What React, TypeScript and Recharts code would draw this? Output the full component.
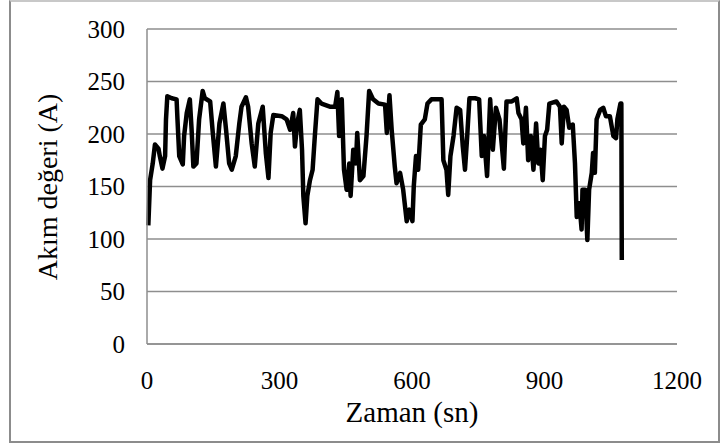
import { LineChart, Line, XAxis, YAxis, CartesianGrid } from 'recharts';

const timeSec = [
  3, 7, 13, 18, 26, 29, 35, 41, 43, 46, 56, 67, 69, 73, 81, 84, 90, 97, 101, 105,
  112, 118, 126, 131, 143, 149, 156, 164, 173, 179, 186, 192, 201, 209, 214, 224, 229, 237, 244, 252,
  262, 269, 275, 280, 286, 305, 316, 324, 331, 335, 340, 346, 351, 354, 359, 363, 369, 375, 380, 386,
  395, 414, 426, 431, 435, 441, 446, 452, 458, 461, 467, 473, 476, 482, 490, 497, 503, 512, 524, 539,
  543, 549, 554, 561, 565, 573, 580, 588, 594, 601, 604, 609, 614, 620, 629, 635, 644, 667, 671, 678,
  682, 687, 694, 701, 709, 715, 720, 725, 730, 743, 752, 758, 763, 770, 777, 783, 790, 798, 803, 808,
  814, 826, 837, 841, 848, 852, 858, 863, 869, 875, 881, 886, 891, 896, 901, 906, 911, 927, 935, 939,
  944, 950, 956, 964, 969, 973, 979, 984, 986, 992, 997, 1001, 1007, 1010, 1014, 1018, 1026, 1033, 1039, 1048,
  1056, 1062, 1065, 1072, 1074, 1075,
];

const currentA = [
  113, 156, 172, 190, 186, 179, 167, 179, 214, 236, 234, 233, 214, 179, 171, 198, 220, 233, 204, 169,
  172, 214, 241, 234, 231, 201, 169, 210, 229, 204, 172, 166, 179, 210, 226, 235, 226, 191, 169, 210,
  226, 182, 158, 201, 218, 217, 214, 204, 220, 188, 210, 223, 185, 141, 115, 141, 156, 166, 198, 233,
  229, 226, 226, 240, 198, 233, 166, 147, 172, 141, 185, 172, 201, 156, 160, 198, 241, 233, 229, 228,
  201, 237, 204, 169, 153, 163, 147, 117, 128, 117, 150, 179, 166, 209, 214, 229, 233, 233, 175, 166,
  142, 179, 198, 225, 223, 188, 166, 198, 234, 234, 233, 179, 198, 160, 233, 185, 225, 214, 191, 167,
  231, 231, 234, 220, 214, 191, 225, 175, 198, 166, 210, 172, 185, 156, 198, 204, 229, 231, 226, 191,
  226, 223, 206, 209, 172, 121, 134, 109, 147, 147, 99, 147, 163, 182, 163, 214, 223, 225, 217, 217,
  198, 196, 214, 229, 229, 80,
];

const xTicks = [0, 300, 600, 900, 1200];
const yTicks = [0, 50, 100, 150, 200, 250, 300];

const data = timeSec.map((t, i) => ({ t, a: currentA[i] }));

// a single quoted family name is what the sandbox resolves reliably
const FONT = "'Liberation Serif'";
const GRID = '#8e8e8e';
const tickStyle = { fill: '#000', fontSize: 25, fontFamily: FONT };

export default function App() {
  return (
    <div style={{ position: 'absolute', left: 0, top: 0, width: 721, height: 448, background: '#fff' }}>
      <div
        style={{
          position: 'absolute',
          left: 9,
          top: 0,
          width: 711,
          height: 443,
          border: '2px solid #8c8c8c',
          borderTopColor: '#c8c8c8',
          boxSizing: 'border-box',
        }}
      />
      <LineChart
        width={721}
        height={448}
        data={data}
        margin={{ top: 29, right: 44, bottom: 0, left: 0 }}
        style={{ position: 'absolute', left: 0, top: 0 }}
      >
        <CartesianGrid vertical={false} stroke={GRID} strokeWidth={1.5} />
        <XAxis
          dataKey="t"
          type="number"
          domain={[0, 1200]}
          ticks={xTicks}
          height={104}
          tickLine={false}
          tickSize={0}
          tickMargin={27}
          axisLine={{ stroke: GRID, strokeWidth: 1.5 }}
          tick={tickStyle}
          label={{
            content: () => (
              <text x={412} y={412} textAnchor="middle" dominantBaseline="central" fontFamily={FONT} fontSize={29} fill="#000">
                Zaman (sn)
              </text>
            ),
          }}
        />
        <YAxis
          type="number"
          domain={[0, 300]}
          ticks={yTicks}
          width={147}
          tickLine={false}
          tickSize={0}
          tickMargin={22}
          axisLine={{ stroke: GRID, strokeWidth: 1.5 }}
          tick={tickStyle}
          label={{
            content: () => (
              <text
                x={47}
                y={187}
                transform="rotate(-90 47 187)"
                textAnchor="middle"
                dominantBaseline="central"
                fontFamily={FONT}
                fontSize={28}
                fill="#000"
              >
                Akım değeri (A)
              </text>
            ),
          }}
        />
        <Line
          type="linear"
          dataKey="a"
          stroke="#000"
          strokeWidth={4.5}
          strokeLinejoin="round"
          dot={false}
          isAnimationActive={false}
        />
      </LineChart>
    </div>
  );
}
